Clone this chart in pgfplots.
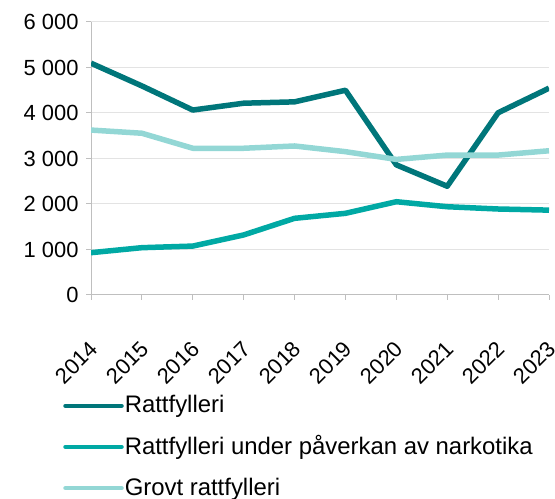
\documentclass[border=0pt]{standalone}
\usepackage{fontspec}
\setmainfont{Liberation Sans}
\usepackage{pgfplots}
\pgfplotsset{compat=1.18}
\definecolor{c1}{HTML}{00767A}
\definecolor{c2}{HTML}{00A9A4}
\definecolor{c3}{HTML}{93D7D5}
\definecolor{axgray}{HTML}{BFBFBF}
\definecolor{gridgray}{HTML}{E3E3E3}
\begin{document}
\fontsize{22}{26}\selectfont
\begin{tikzpicture}
\begin{axis}[
 scale only axis, width=458bp, height=273bp,
 xmin=2014, xmax=2023, ymin=0, ymax=6000,
 xtick={2014,2015,...,2023}, ytick={0,1000,...,6000},
 axis x line*=bottom, axis y line*=left,
 axis line style={-, draw=axgray, line width=1bp},
 ymajorgrids, grid style={draw=gridgray, line width=1bp},
 tick style={draw=axgray, line width=1bp},
 tick align=outside, major tick length=5bp,
 /pgf/number format/assume math mode=true,
 yticklabel style={/pgf/number format/1000 sep={\ }},
 xticklabel shift=14bp,
 xticklabel style={/pgf/number format/1000 sep={}, rotate=45, anchor=north east, inner sep=2bp, xshift=-18bp, yshift=-14bp},
 ticklabel style={font=\fontsize{22}{26}\selectfont},
 legend style={at={(-0.061,-0.364)}, anchor=north west, draw=none, fill=none, inner sep=0pt, row sep=17.5bp, font=\fontsize{24}{28}\selectfont, nodes={inner sep=1bp}},
 legend cell align=left,
 legend image code/.code={\draw[#1, line width=4.5bp, line cap=round] (0bp,0bp) -- (56bp,0bp);},
 every axis plot/.append style={line width=5.5bp, line join=round},
]
\addplot[c1] coordinates {(2014,5095) (2015,4595) (2016,4065) (2017,4215) (2018,4245) (2019,4500) (2020,2860) (2021,2390) (2022,4005) (2023,4545)};
\addlegendentry{Rattfylleri}
\addplot[c2] coordinates {(2014,930) (2015,1040) (2016,1075) (2017,1320) (2018,1685) (2019,1795) (2020,2050) (2021,1940) (2022,1890) (2023,1865)};
\addlegendentry{Rattfylleri under påverkan av narkotika}
\addplot[c3] coordinates {(2014,3625) (2015,3555) (2016,3225) (2017,3225) (2018,3275) (2019,3150) (2020,2980) (2021,3075) (2022,3075) (2023,3170)};
\addlegendentry{Grovt rattfylleri}
\end{axis}
\pgfresetboundingbox
\path ([shift={(-91bp,-204bp)}]current axis.south west) rectangle ([shift={(6bp,22bp)}]current axis.north east);
\end{tikzpicture}
\end{document}
